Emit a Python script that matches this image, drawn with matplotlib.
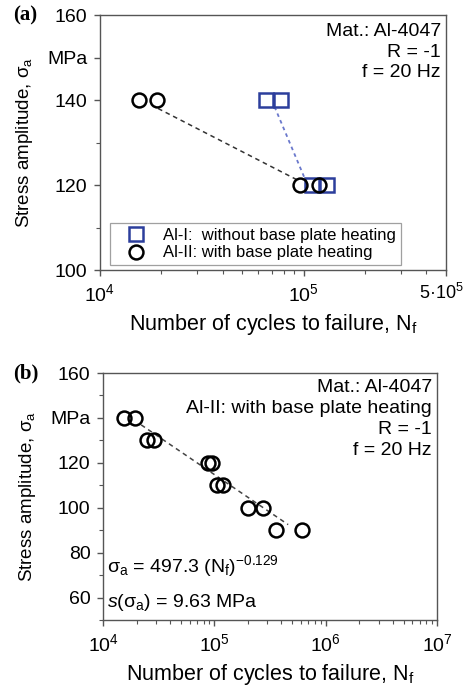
import matplotlib
matplotlib.use("Agg")
import matplotlib.pyplot as plt
import matplotlib.transforms as mtransforms
from matplotlib.ticker import FixedLocator, FixedFormatter, LogLocator, NullFormatter

plt.rcParams['font.family'] = ['Liberation Sans', 'DejaVu Sans']
plt.rcParams['mathtext.fontset'] = 'custom'
plt.rcParams['mathtext.rm'] = 'Liberation Sans'
plt.rcParams['mathtext.it'] = 'Liberation Sans:italic'
plt.rcParams['mathtext.default'] = 'regular'

# (a) Al-I / Al-II, two stress levels
a1_cycles = [6.5e4, 7.7e4, 1.1e5, 1.3e5]
a1_stress = [140, 140, 120, 120]
a2_cycles = [1.56e4, 1.9e4, 9.6e4, 1.19e5]
a2_stress = [140, 140, 120, 120]
a1_fit_cycles = [7.2e4, 1.02e5]
a1_fit_stress = [138.4, 121.2]
a2_fit_cycles = [1.93e4, 9.3e4]
a2_fit_stress = [138.0, 121.2]

# (b) Al-II, full S-N data with Basquin fit
b_cycles = [1.55e4, 1.94e4, 2.5e4, 2.85e4, 8.8e4, 9.6e4,
            1.06e5, 1.2e5, 2.02e5, 2.72e5, 3.58e5, 6.1e5]
b_stress = [140, 140, 130, 130, 120, 120, 110, 110, 100, 100, 90, 90]
basquin_coef = 497.3
basquin_exp = -0.129
b_fit_range = [2.2e4, 4.6e5]

frame = '#555555'
blue = '#2c3e9c'
fs = 14

fig = plt.figure(figsize=(4.67, 6.89), dpi=100)
ax1 = fig.add_axes([0.2141, 0.6081, 0.7409, 0.3701])
ax2 = fig.add_axes([0.2206, 0.1001, 0.7152, 0.3585])


def style_axes(ax):
    for sp in ax.spines.values():
        sp.set_color(frame)
        sp.set_linewidth(1.0)
    ax.tick_params(which='both', direction='out', colors=frame, labelcolor='black',
                   labelsize=fs, top=False, right=False)
    ax.tick_params(axis='y', pad=4.5)
    ax.tick_params(axis='x', pad=5)
    ax.tick_params(which='major', length=4.5, width=1.0)
    ax.tick_params(which='minor', length=3, width=0.8)
    ax.set_xscale('log')
    ax.set_xlabel(r'Number of cycles to failure, N$_\mathregular{f}$', fontsize=15.5, labelpad=5)
    ax.set_ylabel(r'Stress amplitude, $σ_\mathregular{a}$', fontsize=13.5, labelpad=9)


# ---- panel (a)
style_axes(ax1)
ax1.plot(a2_fit_cycles, a2_fit_stress, ls=(0, (3, 2.5)), color='#333333', lw=1.1, zorder=2)
ax1.plot(a1_fit_cycles, a1_fit_stress, ls=(0, (2, 2)), color='#6a78cc', lw=1.3, zorder=2)
ax1.plot(a1_cycles, a1_stress, 's', ms=9.5, mfc='white', mec=blue, mew=1.8, ls='none',
         zorder=3, label='Al-I:  without base plate heating')
ax1.plot(a2_cycles, a2_stress, 'o', ms=10, mfc='none', mec='black', mew=1.8, ls='none',
         zorder=4, label='Al-II: with base plate heating')
ax1.set_xlim(1e4, 5e5)
ax1.set_ylim(100, 160)
ax1.xaxis.set_major_locator(FixedLocator([1e4, 1e5, 5e5]))
ax1.xaxis.set_major_formatter(FixedFormatter([r'10$^\mathregular{4}$', r'10$^\mathregular{5}$',
                                              r'5·10$^\mathregular{5}$']))
ax1.xaxis.set_minor_locator(FixedLocator([2e4, 3e4, 4e4, 5e4, 6e4, 7e4, 8e4, 9e4,
                                          2e5, 3e5, 4e5]))
ax1.xaxis.set_minor_formatter(NullFormatter())
ax1.yaxis.set_major_locator(FixedLocator([100, 120, 140, 150, 160]))
ax1.yaxis.set_major_formatter(FixedFormatter(['100', '120', '140', 'MPa', '160']))
ax1.yaxis.set_minor_locator(FixedLocator([110, 130]))

# keep the last x label inside the figure
last = ax1.get_xticklabels()[-1]
last.set_fontsize(13)
last.set_transform(last.get_transform() +
                   mtransforms.ScaledTranslation(-5 / 100, 0, fig.dpi_scale_trans))

leg = ax1.legend(loc='lower left', bbox_to_anchor=(0.028, 0.018), fontsize=12,
                 frameon=True, fancybox=False, edgecolor='#888888', handlelength=2.5,
                 handletextpad=0.4, borderpad=0.3, labelspacing=0.15, borderaxespad=0)
leg.get_frame().set_linewidth(0.9)
ax1.text(0.985, 0.97, 'Mat.: Al-4047\nR = -1\nf = 20 Hz', transform=ax1.transAxes,
         ha='right', va='top', fontsize=fs, linespacing=1.3)
fig.text(0.028, 0.978, '(a)', family='Liberation Serif', weight='bold', fontsize=15,
         va='center', ha='left')

# ---- panel (b)
style_axes(ax2)
fit_x = [b_fit_range[0], b_fit_range[1]]
fit_y = [basquin_coef * n ** basquin_exp for n in fit_x]
ax2.plot(fit_x, fit_y, ls=(0, (3, 2.5)), color='#444444', lw=1.1, zorder=2)
ax2.plot(b_cycles, b_stress, 'o', ms=10, mfc='none', mec='black', mew=1.8, ls='none', zorder=3)
ax2.set_xlim(1e4, 1e7)
ax2.set_ylim(50, 160)
ax2.xaxis.set_major_locator(FixedLocator([1e4, 1e5, 1e6, 1e7]))
ax2.xaxis.set_major_formatter(FixedFormatter([r'10$^\mathregular{4}$', r'10$^\mathregular{5}$',
                                              r'10$^\mathregular{6}$', r'10$^\mathregular{7}$']))
ax2.xaxis.set_minor_locator(LogLocator(base=10, subs=range(2, 10), numticks=20))
ax2.xaxis.set_minor_formatter(NullFormatter())
ax2.yaxis.set_major_locator(FixedLocator([60, 80, 100, 120, 140, 160]))
ax2.yaxis.set_major_formatter(FixedFormatter(['60', '80', '100', '120', 'MPa', '160']))
ax2.yaxis.set_minor_locator(FixedLocator([50, 70, 90, 110, 130, 150]))
ax2.text(0.985, 0.975, 'Mat.: Al-4047\nAl-II: with base plate heating\nR = -1\nf = 20 Hz',
         transform=ax2.transAxes, ha='right', va='top', fontsize=fs, linespacing=1.3)
ax2.text(0.012, 0.194,
         r'$σ_\mathregular{a}$ = 497.3 (N$_\mathregular{f}$)$^\mathregular{-0.129}$',
         transform=ax2.transAxes, ha='left', va='baseline', fontsize=fs)
ax2.text(0.012, 0.053, r'$\mathit{s}$($σ_\mathregular{a}$) = 9.63 MPa',
         transform=ax2.transAxes, ha='left', va='baseline', fontsize=fs)
fig.text(0.028, 0.458, '(b)', family='Liberation Serif', weight='bold', fontsize=15,
         va='center', ha='left')

fig.savefig('out.png', dpi=100)
